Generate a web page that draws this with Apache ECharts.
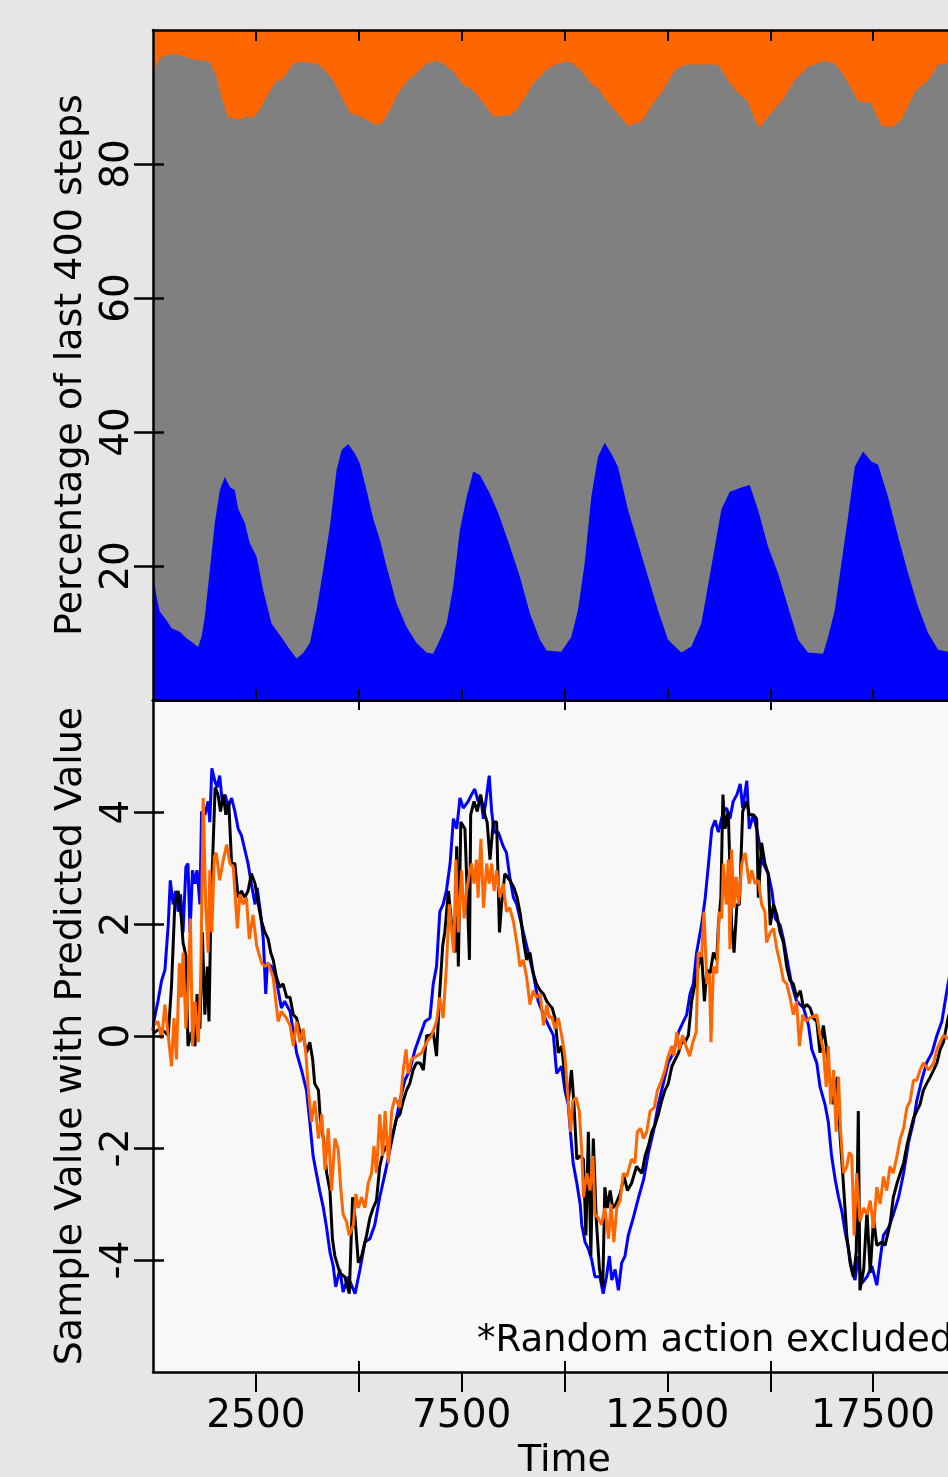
<!DOCTYPE html>
<html>
<head>
<meta charset="utf-8">
<script src="https://cdn.jsdelivr.net/npm/echarts@6/dist/echarts.min.js"></script>
<style>
html,body{margin:0;padding:0;background:#e6e6e6;}
#chart{width:948px;height:1477px;}
</style>
</head>
<body>
<div id="chart"></div>
<script>
// ---------- DATA ----------
// Time axis
const X_MIN = 0, X_MAX = 20000;
const xTickValues = [2500, 5000, 7500, 10000, 12500, 15000, 17500];
const xLabelValues = [2500, 7500, 12500, 17500];
const xMajorTicks = [5000, 10000, 15000];
const topYTicks = [20, 40, 60, 80];
const bottomYTicks = [-4, -2, 0, 2, 4];

// Top panel: percentage of last 400 steps (cumulative boundaries)
const orangeTotal = [[0, 100], [20000, 100]];
const grayCumulative = [[0,93.5],[165,95.8],[408,96.4],[652,96.3],[975,95.6],[1381,95.3],[1543,93.0],[1665,90.0],[1827,87.0],[2110,86.6],[2273,87.1],[2434,86.9],[2597,88.1],[2759,90.0],[2961,92.1],[3163,92.8],[3326,94.3],[3489,95.3],[3649,95.2],[3975,95.0],[4135,94.3],[4378,92.5],[4583,90.0],[4784,87.6],[4986,87.2],[5191,86.6],[5434,85.8],[5594,86.3],[5757,88.1],[5959,90.6],[6163,92.3],[6406,93.6],[6649,95.0],[6892,95.4],[7053,95.0],[7296,93.8],[7539,91.8],[7782,91.0],[8025,89.1],[8268,87.1],[8512,87.2],[8674,87.3],[8837,88.1],[8998,89.6],[9241,92.0],[9566,94.1],[9841,95.0],[10126,95.3],[10400,94.0],[10643,92.0],[10814,91.3],[11008,89.6],[11251,87.8],[11543,85.7],[11859,86.3],[12102,88.6],[12394,91.0],[12678,94.0],[12921,94.8],[13318,94.9],[13731,94.8],[13974,92.5],[14217,90.6],[14461,89.3],[14624,86.6],[14745,85.4],[14946,87.1],[15263,89.3],[15596,92.5],[15919,94.5],[16325,95.4],[16568,95.0],[16811,93.0],[17134,89.4],[17451,89.1],[17694,85.8],[17944,85.5],[18187,86.6],[18513,90.8],[18836,92.5],[19079,94.8],[19323,95.0],[19700,95.2],[20000,95.3]];
const bluePercent = [[0,19.0],[85,15.4],[165,13.2],[328,11.9],[450,10.7],[652,10.2],[814,9.2],[975,8.5],[1096,7.9],[1179,9.4],[1259,12.4],[1381,19.4],[1502,26.4],[1624,31.3],[1746,33.3],[1867,31.8],[1989,31.3],[2069,28.6],[2232,26.4],[2353,23.4],[2516,21.4],[2677,16.4],[2881,11.4],[3163,9.0],[3326,7.5],[3489,6.2],[3649,7.0],[3812,8.5],[3975,13.4],[4135,19.4],[4298,25.9],[4461,34.3],[4583,37.3],[4743,38.2],[4906,36.8],[5027,35.3],[5190,31.3],[5351,27.1],[5514,23.9],[5677,19.9],[5920,14.4],[6163,10.9],[6406,8.5],[6649,7.1],[6810,6.9],[6973,9.0],[7135,11.4],[7296,16.9],[7459,25.4],[7622,30.3],[7782,34.1],[7945,33.6],[8188,30.8],[8390,27.9],[8674,22.9],[8917,18.4],[9160,12.9],[9403,9.0],[9566,7.4],[9921,7.2],[10164,9.4],[10327,13.4],[10490,20.4],[10651,30.3],[10814,36.3],[10976,38.4],[11137,36.8],[11300,34.8],[11543,28.4],[11786,23.4],[12029,18.4],[12272,13.4],[12515,9.0],[12839,7.1],[13082,8.0],[13325,11.4],[13568,19.9],[13811,28.4],[14015,31.1],[14297,31.7],[14501,32.1],[14703,28.4],[14946,22.9],[15189,18.9],[15433,13.9],[15676,9.0],[15919,7.1],[16284,6.9],[16405,9.4],[16568,13.4],[16729,20.4],[16891,27.4],[17054,34.8],[17256,37.1],[17458,35.6],[17621,35.1],[17864,30.3],[18107,24.4],[18350,18.9],[18593,13.9],[18836,10.0],[19079,7.5],[19323,7.2],[19700,7.5],[20000,9.0]];

// Bottom panel: sample value with predicted value
const blueLine = [[0,0.1],[20,0.26],[120,0.62],[210,0.99],[290,1.18],[370,1.98],[420,2.78],[490,2.35],[550,2.59],[610,2.22],[670,2.53],[730,1.85],[800,3.02],[850,3.08],[900,1.85],[960,2.96],[1020,2.72],[1070,2.96],[1140,2.35],[1180,4.01],[1260,3.95],[1340,4.19],[1380,3.82],[1430,4.78],[1500,4.56],[1560,4.44],[1620,4.65],[1690,4.13],[1750,4.31],[1830,4.10],[1910,4.25],[1990,4.01],[2070,3.70],[2150,3.58],[2230,3.33],[2310,3.08],[2390,2.72],[2480,2.35],[2530,2.65],[2610,2.22],[2680,1.73],[2740,0.75],[2780,1.30],[2880,1.24],[3000,0.99],[3120,0.50],[3200,0.62],[3330,0.44],[3490,-0.30],[3610,-0.61],[3730,-0.97],[3810,-1.53],[3890,-2.14],[3970,-2.45],[4050,-2.76],[4140,-3.07],[4220,-3.43],[4300,-3.86],[4380,-4.11],[4440,-4.48],[4540,-4.17],[4620,-4.57],[4740,-4.30],[4910,-4.60],[5030,-4.17],[5150,-3.68],[5270,-3.62],[5390,-3.37],[5510,-2.88],[5640,-2.45],[5760,-2.02],[5880,-1.59],[6000,-1.16],[6120,-0.79],[6240,-0.61],[6370,-0.24],[6490,0.01],[6610,0.26],[6730,0.32],[6810,0.93],[6890,1.24],[6970,2.22],[7050,2.35],[7130,2.59],[7220,3.08],[7300,3.88],[7380,3.70],[7460,4.25],[7540,4.07],[7660,4.19],[7740,4.31],[7820,4.41],[7900,4.19],[7960,4.28],[8030,3.88],[8110,4.31],[8170,4.65],[8230,4.01],[8290,3.64],[8390,3.64],[8510,3.39],[8590,3.27],[8670,2.84],[8760,2.47],[8840,2.35],[8920,2.10],[9000,1.85],[9120,1.49],[9240,1.12],[9360,0.62],[9490,0.38],[9610,0.19],[9730,0.01],[9810,-0.67],[9930,-0.54],[10010,-0.97],[10090,-1.22],[10150,-1.77],[10210,-2.27],[10300,-2.63],[10380,-3.00],[10420,-3.37],[10500,-3.68],[10580,-3.80],[10660,-3.99],[10740,-4.30],[10860,-4.30],[10940,-4.60],[11020,-4.30],[11090,-3.93],[11150,-4.36],[11230,-4.17],[11310,-4.54],[11390,-4.05],[11470,-3.93],[11550,-3.56],[11670,-3.25],[11800,-2.88],[11920,-2.57],[12040,-2.08],[12160,-1.71],[12280,-1.22],[12400,-0.85],[12520,-0.48],[12650,-0.30],[12770,0.07],[12890,0.26],[12970,0.38],[13050,0.75],[13130,0.93],[13210,1.49],[13330,1.98],[13420,2.47],[13500,3.08],[13580,3.70],[13660,3.85],[13740,3.64],[13860,4.01],[13940,4.07],[14020,3.88],[14100,4.19],[14190,4.31],[14270,4.50],[14330,4.07],[14430,4.56],[14490,3.70],[14590,3.95],[14670,3.70],[14750,3.39],[14830,3.08],[14950,2.90],[15040,2.59],[15120,2.10],[15240,1.98],[15320,1.73],[15440,1.24],[15520,0.93],[15640,0.62],[15810,0.50],[15930,0.19],[16010,-0.24],[16130,-0.48],[16210,-0.91],[16330,-1.22],[16410,-1.53],[16490,-2.14],[16580,-2.57],[16660,-2.88],[16740,-3.13],[16820,-3.50],[16900,-3.80],[16980,-4.17],[17060,-4.36],[17140,-3.93],[17220,-4.42],[17350,-4.30],[17470,-4.11],[17590,-4.45],[17670,-3.99],[17750,-3.56],[17870,-3.43],[17990,-3.19],[18120,-2.88],[18240,-2.45],[18360,-1.90],[18480,-1.53],[18560,-1.16],[18680,-0.79],[18800,-0.48],[18930,-0.30],[19050,0.01],[19170,0.26],[19250,0.62],[19320,0.93],[19500,1.6],[19700,2.4],[20000,3.3]];
const blackLine = [[0,0.05],[40,0.07],[170,0.13],[290,0.07],[370,0.01],[450,0.9],[530,2.35],[610,2.59],[690,2.10],[730,1.67],[800,1.43],[850,-0.18],[930,0.07],[1020,-0.18],[1070,0.75],[1140,0.13],[1200,1.85],[1260,0.38],[1320,1.24],[1360,0.26],[1410,2.35],[1460,3.39],[1510,4.44],[1580,4.31],[1640,4.01],[1710,4.31],[1770,3.95],[1840,4.19],[1910,3.08],[1990,3.08],[2070,2.47],[2150,2.59],[2230,2.47],[2310,2.59],[2390,2.90],[2480,2.72],[2560,2.35],[2640,2.04],[2720,1.85],[2800,1.73],[2860,1.49],[2920,1.36],[3000,1.05],[3080,0.87],[3160,0.93],[3250,0.69],[3330,0.69],[3410,0.38],[3490,0.32],[3570,0.07],[3650,0.01],[3730,-0.30],[3810,-0.11],[3880,-0.42],[3930,-0.85],[4020,-0.97],[4070,-1.53],[4140,-1.83],[4220,-2.45],[4300,-2.76],[4360,-3.62],[4420,-3.93],[4540,-4.23],[4660,-4.30],[4770,-4.60],[4850,-2.88],[4910,-3.25],[4990,-4.05],[5070,-3.93],[5190,-3.56],[5270,-3.25],[5350,-3.07],[5430,-2.94],[5510,-2.33],[5590,-2.08],[5680,-1.96],[5760,-1.96],[5840,-1.71],[5920,-1.47],[6000,-1.40],[6080,-1.16],[6160,-0.97],[6240,-0.85],[6320,-0.61],[6400,-0.48],[6490,-0.48],[6570,-0.61],[6650,0.01],[6730,0.01],[6810,0.07],[6890,-0.36],[6960,0.69],[7040,1.61],[7090,1.85],[7180,2.59],[7260,1.98],[7340,1.49],[7380,3.39],[7420,1.24],[7480,3.82],[7580,3.70],[7640,2.47],[7690,1.36],[7720,3.95],[7800,4.19],[7880,4.01],[7960,4.31],[8040,4.01],[8120,3.82],[8190,3.15],[8270,3.82],[8350,3.82],[8420,1.85],[8470,2.35],[8550,2.90],[8670,2.78],[8770,2.65],[8850,2.47],[8930,2.16],[9010,1.67],[9080,1.36],[9160,1.49],[9240,1.12],[9320,0.93],[9410,0.81],[9490,0.75],[9570,0.62],[9630,0.56],[9700,0.50],[9770,0.32],[9850,-0.30],[9930,-0.18],[10010,-0.73],[10090,-1.16],[10170,-0.61],[10230,-1.22],[10300,-2.20],[10380,-2.14],[10460,-2.20],[10520,-3.56],[10580,-1.71],[10640,-3.93],[10700,-1.83],[10770,-3.25],[10850,-4.17],[10930,-4.48],[10980,-2.70],[11040,-3.07],[11110,-2.76],[11170,-3.07],[11250,-3.00],[11350,-2.82],[11450,-2.51],[11530,-2.76],[11630,-2.63],[11750,-2.33],[11880,-2.45],[11960,-2.14],[12040,-1.96],[12120,-1.71],[12200,-1.59],[12280,-1.40],[12360,-1.16],[12440,-0.97],[12520,-0.85],[12610,-0.54],[12690,-0.42],[12770,-0.30],[12850,-0.11],[12930,-0.11],[13010,0.01],[13090,0.62],[13170,0.93],[13250,1.24],[13330,1.49],[13400,0.62],[13460,1.18],[13540,1.12],[13620,1.49],[13700,1.36],[13740,1.98],[13800,2.47],[13850,4.31],[13900,3.70],[13980,4.01],[14060,1.98],[14120,1.49],[14190,2.35],[14250,2.35],[14330,4.01],[14430,4.19],[14490,3.95],[14590,3.95],[14670,3.88],[14710,2.47],[14790,3.45],[14870,3.08],[14950,2.90],[15000,1.98],[15080,2.35],[15160,2.16],[15240,1.85],[15320,1.67],[15400,1.24],[15480,0.99],[15560,0.93],[15640,0.69],[15730,0.81],[15810,0.50],[15890,0.56],[15970,0.50],[16050,0.32],[16130,0.26],[16210,-0.30],[16290,0.19],[16360,-0.18],[16440,-0.73],[16540,-1.22],[16630,-0.73],[16700,-1.83],[16760,-2.45],[16860,-3.56],[16940,-4.05],[17020,-4.30],[17090,-3.86],[17140,-1.34],[17180,-4.54],[17270,-4.17],[17350,-3.13],[17430,-4.23],[17510,-3.25],[17590,-3.74],[17710,-3.68],[17790,-3.74],[17910,-3.37],[17990,-2.88],[18080,-2.63],[18160,-2.45],[18240,-2.27],[18320,-1.96],[18400,-1.71],[18480,-1.47],[18560,-1.34],[18640,-1.22],[18720,-0.97],[18800,-0.85],[18890,-0.73],[18970,-0.61],[19050,-0.48],[19130,-0.24],[19210,-0.11],[19320,0.32],[19600,1.0],[20000,2.3]];
const orangeLine = [[0,0.1],[20,0.19],[120,0.26],[210,-0.05],[290,0.56],[370,0.01],[450,-0.54],[510,0.32],[570,-0.42],[640,1.30],[690,0.69],[730,1.49],[800,0.13],[850,0.87],[910,2.10],[960,-0.18],[1020,0.62],[1100,-0.11],[1160,0.99],[1220,4.25],[1280,2.35],[1340,1.49],[1380,2.96],[1430,1.85],[1490,3.21],[1540,3.27],[1620,2.78],[1710,3.15],[1790,3.42],[1870,3.08],[1950,3.02],[2050,1.92],[2110,2.53],[2190,2.35],[2270,2.47],[2340,1.73],[2430,2.16],[2520,1.61],[2640,1.30],[2720,1.24],[2800,1.30],[2920,1.05],[3040,0.26],[3120,0.44],[3240,0.32],[3330,0.19],[3410,-0.18],[3490,0.26],[3570,-0.11],[3650,0.13],[3720,-0.36],[3770,-0.91],[3850,-1.53],[3930,-1.16],[4020,-1.83],[4100,-1.40],[4180,-2.39],[4260,-1.65],[4340,-2.76],[4420,-1.83],[4500,-2.02],[4560,-2.70],[4620,-3.19],[4700,-3.31],[4770,-3.56],[4870,-3.37],[4930,-2.82],[4990,-3.07],[5070,-2.88],[5150,-3.07],[5230,-2.63],[5310,-2.45],[5370,-1.96],[5430,-2.45],[5510,-1.40],[5580,-2.14],[5640,-1.34],[5720,-2.27],[5800,-1.34],[5880,-1.10],[6000,-1.28],[6080,-0.61],[6150,-0.24],[6200,-0.67],[6280,-0.42],[6400,-0.36],[6530,-0.30],[6650,-0.11],[6770,0.01],[6890,0.26],[6970,0.69],[7050,0.32],[7130,1.24],[7200,2.35],[7260,1.85],[7310,1.49],[7360,3.15],[7420,1.85],[7500,2.96],[7560,2.10],[7620,2.59],[7690,2.90],[7740,3.08],[7800,2.72],[7860,3.15],[7900,2.47],[7970,3.52],[8030,2.29],[8110,3.08],[8170,2.72],[8230,3.08],[8290,2.59],[8350,2.96],[8430,2.47],[8510,2.72],[8590,2.22],[8670,2.29],[8760,2.04],[8840,1.67],[8920,1.24],[9000,1.36],[9080,1.05],[9160,0.56],[9240,0.81],[9320,0.69],[9410,0.75],[9490,0.19],[9570,0.56],[9630,0.32],[9690,0.35],[9770,0.13],[9850,0.32],[9930,0.01],[10010,-0.36],[10090,-1.16],[10150,-1.71],[10200,-1.16],[10280,-1.10],[10360,-1.34],[10420,-2.08],[10460,-2.88],[10540,-2.45],[10620,-2.76],[10690,-2.14],[10740,-3.19],[10820,-3.25],[10900,-3.37],[10980,-3.07],[11070,-3.62],[11130,-3.00],[11200,-3.68],[11270,-3.07],[11350,-2.94],[11430,-2.45],[11510,-2.51],[11630,-2.20],[11710,-2.27],[11770,-1.71],[11850,-1.65],[11920,-1.83],[12000,-1.71],[12080,-1.34],[12180,-1.28],[12260,-0.97],[12360,-0.79],[12440,-0.61],[12520,-0.36],[12610,-0.18],[12660,-0.36],[12730,0.07],[12790,-0.24],[12870,0.01],[12950,-0.18],[13040,-0.36],[13120,-0.11],[13200,0.07],[13250,1.49],[13330,1.42],[13390,2.22],[13460,0.93],[13520,1.12],[13560,-0.11],[13620,1.24],[13700,1.12],[13760,2.22],[13820,2.10],[13860,3.08],[13930,2.35],[13980,3.15],[14020,1.55],[14060,3.33],[14120,2.29],[14170,2.84],[14230,2.35],[14310,3.08],[14390,3.27],[14490,2.72],[14550,2.96],[14630,2.72],[14710,2.78],[14790,2.35],[14870,2.22],[14910,1.67],[15000,1.85],[15080,1.92],[15160,1.55],[15240,1.30],[15320,0.99],[15400,0.93],[15480,0.69],[15560,0.38],[15640,0.62],[15710,-0.18],[15790,0.38],[15870,0.26],[15950,0.32],[16050,0.35],[16130,0.38],[16210,0.01],[16290,-0.24],[16360,-0.91],[16410,-0.18],[16470,-1.22],[16540,-0.61],[16600,-1.71],[16660,-0.73],[16710,-1.71],[16780,-2.45],[16860,-2.33],[16920,-2.08],[16980,-2.14],[17040,-3.56],[17100,-2.45],[17180,-3.31],[17270,-3.07],[17350,-3.19],[17430,-2.94],[17510,-3.43],[17590,-2.70],[17670,-3.00],[17750,-2.51],[17830,-2.76],[17910,-2.33],[17990,-2.45],[18080,-2.14],[18160,-1.83],[18240,-1.65],[18320,-1.28],[18400,-1.16],[18480,-0.79],[18560,-0.79],[18640,-0.61],[18720,-0.48],[18850,-0.61],[18970,-0.48],[19050,-0.24],[19130,-0.11],[19210,0.01],[19320,-0.05],[19600,0.4],[20000,1.2]];

const topYName = 'Percentage of last 400 steps';
const bottomYName = 'Sample Value with Predicted Value';
const xName = 'Time';
const noteText = '*Random action excluded';

// ---------- CHART ----------
const FONT = '"DejaVu Sans", "Liberation Sans", sans-serif';
const BLACK = '#000000';
const chart = echarts.init(document.getElementById('chart'), null, {renderer: 'canvas', width: 948, height: 1477});

function xAx(grid, pos, opts) {
  return Object.assign({
    type: 'value', gridIndex: grid, min: X_MIN, max: X_MAX, position: pos, z: 10,
    axisLine: {show: false, onZero: false},
    axisTick: {show: false},
    axisLabel: {show: false},
    splitLine: {show: false}
  }, opts);
}
function yAx(grid, pos, mn, mx, opts) {
  return Object.assign({
    type: 'value', gridIndex: grid, min: mn, max: mx, position: pos, z: 10,
    axisLine: {show: false, onZero: false},
    axisTick: {show: false},
    axisLabel: {show: false},
    splitLine: {show: false}
  }, opts);
}

const option = {
  backgroundColor: '#e6e6e6',
  animation: false,
  grid: [
    {left: 153, top: 30, width: 823, height: 670, show: false, containLabel: false, outerBoundsMode: 'none'},
    {left: 153, top: 700, width: 823, height: 672, show: true, backgroundColor: '#f8f8f8', borderWidth: 0,
     containLabel: false, outerBoundsMode: 'none'}
  ],
  xAxis: [
    // 0: top panel, bottom edge
    xAx(0, 'bottom', {
      axisLine: {show: true, onZero: false, lineStyle: {color: BLACK, width: 3}},
      axisTick: {show: true, inside: true, length: 11, customValues: xTickValues, lineStyle: {color: BLACK, width: 2}}
    }),
    // 1: top panel, top edge
    xAx(0, 'top', {
      axisLine: {show: true, onZero: false, lineStyle: {color: BLACK, width: 2.5}},
      axisTick: {show: true, inside: true, length: 11, customValues: xTickValues, lineStyle: {color: BLACK, width: 2}}
    }),
    // 2: bottom panel, bottom edge with labels
    xAx(1, 'bottom', {
      axisLine: {show: true, onZero: false, lineStyle: {color: BLACK, width: 2.5}},
      axisTick: {show: true, inside: false, length: 20, customValues: xTickValues, lineStyle: {color: BLACK, width: 2}},
      axisLabel: {show: true, customValues: xLabelValues, margin: 25, fontSize: 39, fontFamily: FONT, color: BLACK,
                  formatter: v => String(v)},
      name: xName, nameLocation: 'middle', nameGap: 70,
      nameTextStyle: {fontSize: 38, fontFamily: FONT, color: BLACK}
    }),
    // 3: bottom panel, inner major ticks on bottom edge
    xAx(1, 'bottom', {
      axisTick: {show: true, inside: true, length: 11, customValues: xMajorTicks, lineStyle: {color: BLACK, width: 2}}
    }),
    // 4: bottom panel, top edge
    xAx(1, 'top', {
      axisLine: {show: true, onZero: false, lineStyle: {color: BLACK, width: 2.5}},
      axisTick: {show: true, inside: true, length: 10, customValues: xMajorTicks, lineStyle: {color: BLACK, width: 2}}
    })
  ],
  yAxis: [
    // 0: top panel left
    yAx(0, 'left', 0, 100, {
      axisLine: {show: true, onZero: false, lineStyle: {color: BLACK, width: 2.5}},
      axisTick: {show: true, inside: false, length: 19, customValues: topYTicks, lineStyle: {color: BLACK, width: 2.5}},
      axisLabel: {show: true, customValues: topYTicks, rotate: 90, margin: 16, fontSize: 39, fontFamily: FONT, color: BLACK},
      name: topYName, nameLocation: 'middle', nameRotate: 90, nameGap: 56,
      nameTextStyle: {fontSize: 38, fontFamily: FONT, color: BLACK}
    }),
    // 1: top panel left inner ticks
    yAx(0, 'left', 0, 100, {
      axisTick: {show: true, inside: true, length: 11, customValues: topYTicks, lineStyle: {color: BLACK, width: 2.5}}
    }),
    // 2: top panel right edge
    yAx(0, 'right', 0, 100, {
      axisLine: {show: true, onZero: false, lineStyle: {color: BLACK, width: 2.5}}
    }),
    // 3: bottom panel left
    yAx(1, 'left', -6, 6, {
      axisLine: {show: true, onZero: false, lineStyle: {color: BLACK, width: 2.5}},
      axisTick: {show: true, inside: false, length: 19, customValues: bottomYTicks, lineStyle: {color: BLACK, width: 2.5}},
      axisLabel: {show: true, customValues: bottomYTicks, rotate: 90, margin: 16, fontSize: 39, fontFamily: FONT, color: BLACK},
      name: bottomYName, nameLocation: 'middle', nameRotate: 90, nameGap: 56,
      nameTextStyle: {fontSize: 38, fontFamily: FONT, color: BLACK}
    }),
    // 4: bottom panel left inner ticks
    yAx(1, 'left', -6, 6, {
      axisTick: {show: true, inside: true, length: 11, customValues: bottomYTicks, lineStyle: {color: BLACK, width: 2.5}}
    })
  ],
  series: [
    {type: 'line', name: 'Orange share', xAxisIndex: 0, yAxisIndex: 0, data: orangeTotal, showSymbol: false,
     lineStyle: {width: 0}, areaStyle: {color: '#ff6600', opacity: 1}, silent: true},
    {type: 'line', name: 'Gray share', xAxisIndex: 0, yAxisIndex: 0, data: grayCumulative, showSymbol: false,
     lineStyle: {width: 0}, areaStyle: {color: '#808080', opacity: 1}, silent: true},
    {type: 'line', name: 'Blue share', xAxisIndex: 0, yAxisIndex: 0, data: bluePercent, showSymbol: false,
     lineStyle: {width: 0}, areaStyle: {color: '#0000ff', opacity: 1}, silent: true},
    {type: 'line', name: 'Blue', xAxisIndex: 2, yAxisIndex: 3, data: blueLine, showSymbol: false,
     lineStyle: {color: '#0000ff', width: 3}},
    {type: 'line', name: 'Black', xAxisIndex: 2, yAxisIndex: 3, data: blackLine, showSymbol: false,
     lineStyle: {color: '#000000', width: 3}},
    {type: 'line', name: 'Orange', xAxisIndex: 2, yAxisIndex: 3, data: orangeLine, showSymbol: false,
     lineStyle: {color: '#ff6600', width: 3}}
  ],
  graphic: [
    {type: 'text', x: 477, y: 1323, z: 20,
     style: {text: noteText, fontSize: 37, fontFamily: FONT, fill: BLACK, verticalAlign: 'top', align: 'left'}}
  ]
};
chart.setOption(option);
</script>
</body>
</html>
